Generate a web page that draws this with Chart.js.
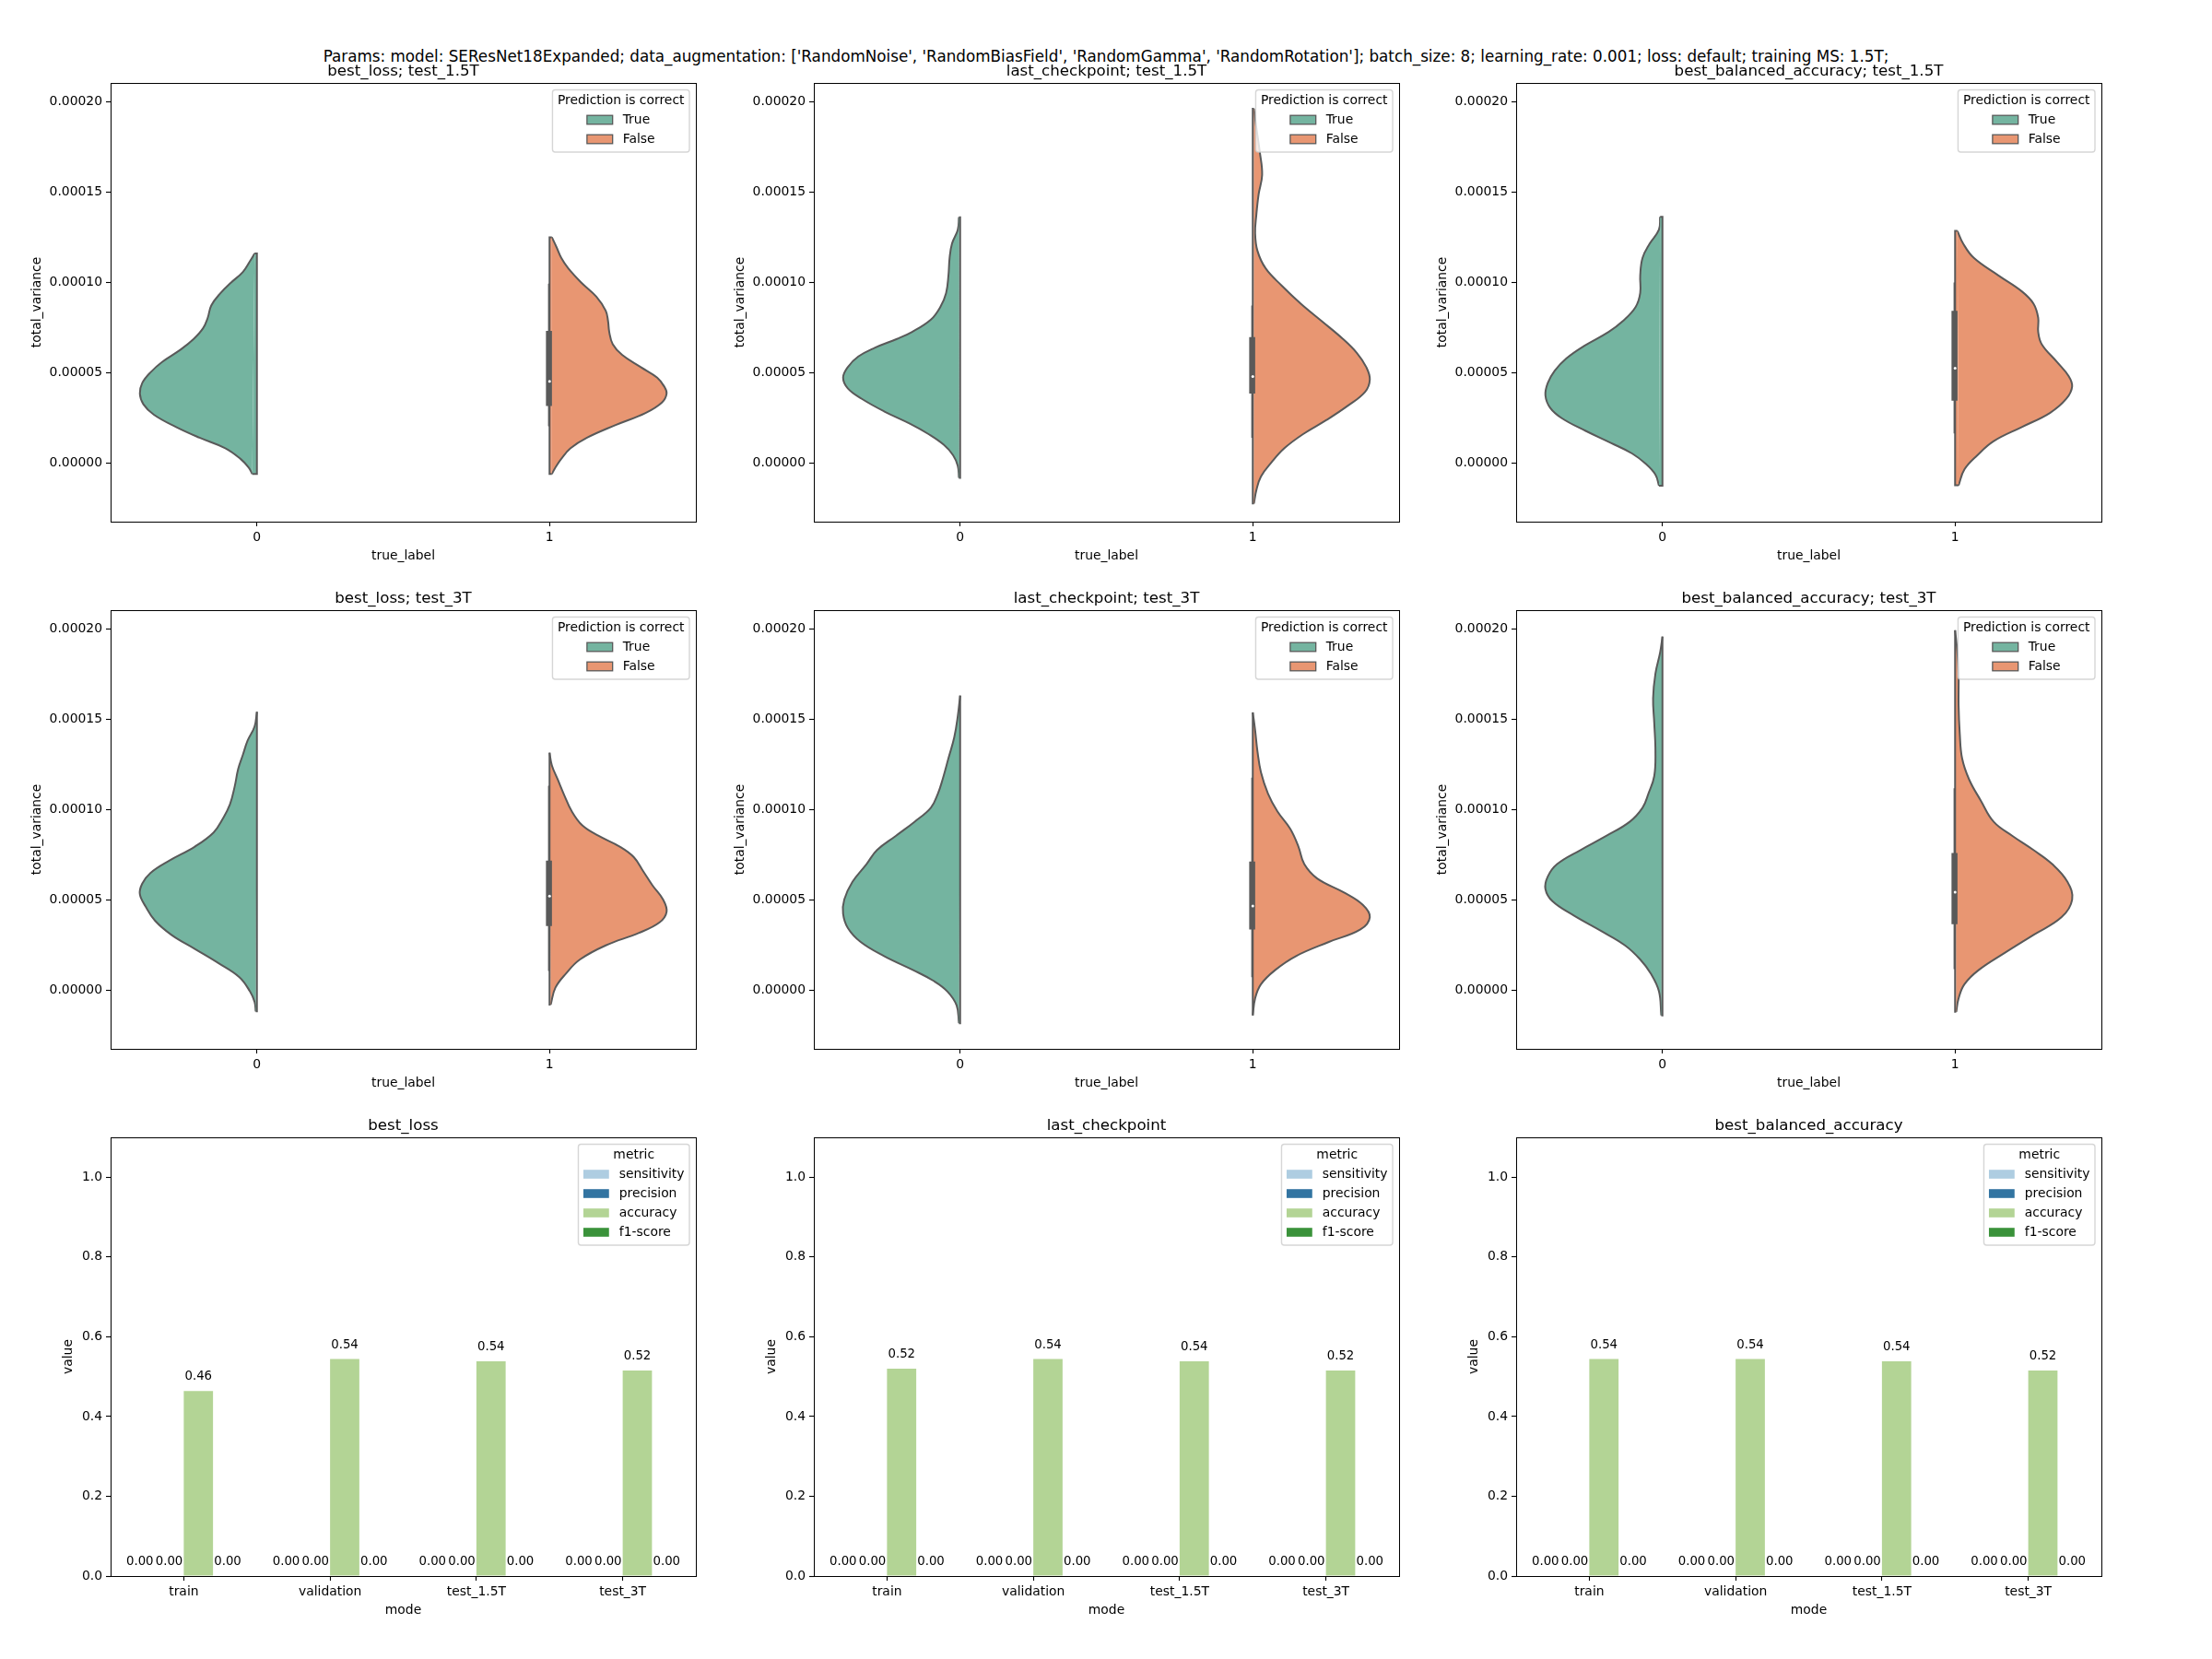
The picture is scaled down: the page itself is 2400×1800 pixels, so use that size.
<!DOCTYPE html>
<html>
<head>
<meta charset="utf-8">
<title>Params</title>
<script src="https://cdn.jsdelivr.net/npm/chart.js@4"></script>
<style>
  html, body { margin: 0; padding: 0; background: #fff; }
  #page { position: relative; width: 2400px; height: 1800px; overflow: hidden; }
  #page canvas { position: absolute; }
  #suptitle { position: absolute; left: 0; width: 2400px; top: 51px; text-align: center;
    font: 16.78px "DejaVu Sans"; line-height: 20px; color: #000; white-space: pre; }
</style>
</head>
<body>
<div id="page">
  <div id="suptitle">Params: model: SEResNet18Expanded; data_augmentation: ['RandomNoise', 'RandomBiasField', 'RandomGamma', 'RandomRotation']; batch_size: 8; learning_rate: 0.001; loss: default; training MS: 1.5T;</div>
</div>
<script>
// ---- data ----
const checkpoints = ["best_loss", "last_checkpoint", "best_balanced_accuracy"];
const testSets = ["test_1.5T", "test_3T"];
const trueLabels = ["0", "1"];
const varianceTicks = [0, 0.00005, 0.0001, 0.00015, 0.0002];
const scoreTicks = [0, 0.2, 0.4, 0.6, 0.8, 1.0];

// violins: value is total_variance * 1e5, dens is the density relative to the widest point
const loss15TrueVal = [11.60,11.17,10.58,10.0,9.42,8.73,8.05,7.47,6.88,6.30,5.61,5.03,4.44,3.86,3.27,2.69,2.01,1.42,0.84,0.25,-0.23,-0.58];
const loss15TrueDens = [.02,.06,.12,.22,.31,.39,.42,.46,.54,.65,.81,.91,.98,1,.97,.88,.69,.49,.27,.14,.07,.04];
const loss15FalseVal = [12.50,11.95,11.36,10.78,10.0,9.22,8.44,7.86,7.27,6.59,6.0,5.32,4.74,4.25,3.86,3.37,2.79,2.11,1.42,0.84,0.25,-0.23,-0.58];
const loss15FalseDens = [.02,.06,.10,.16,.27,.40,.48,.50,.51,.54,.62,.78,.92,.98,1,.96,.82,.56,.32,.18,.10,.05,.02];
const last15TrueVal = [13.61,12.92,12.14,11.36,10.39,9.42,8.64,7.95,7.27,6.88,6.39,5.91,5.32,4.74,4.15,3.57,2.88,2.20,1.62,1.03,0.45,-0.14,-0.80];
const last15TrueDens = [.01,.02,.07,.09,.10,.12,.17,.25,.41,.54,.73,.87,.96,1,.96,.84,.65,.43,.27,.14,.06,.02,.01];
const last15FalseVal = [19.61,18.58,17.21,15.95,14.87,13.70,12.73,11.75,10.78,9.81,8.83,7.86,6.88,6.10,5.32,4.64,3.96,3.18,2.40,1.62,0.84,0.06,-0.72,-1.50,-2.22];
const last15FalseDens = [.01,.03,.06,.08,.05,.03,.02,.04,.11,.25,.41,.59,.77,.89,.97,1,.96,.81,.63,.43,.27,.16,.07,.03,.01];
const bal15TrueVal = [13.63,12.92,12.14,11.36,10.39,9.42,8.64,7.86,7.27,6.49,5.81,5.13,4.44,3.76,3.08,2.50,1.81,1.13,0.55,-0.04,-0.62,-1.23];
const bal15TrueDens = [.02,.03,.11,.17,.19,.19,.23,.34,.46,.67,.82,.92,.98,1,.96,.86,.66,.44,.26,.14,.06,.03];
const bal15FalseVal = [12.85,12.14,11.36,10.39,9.51,8.83,8.05,7.27,6.59,5.61,4.83,4.25,3.57,2.79,2.01,1.23,0.45,-0.33,-1.21];
const bal15FalseDens = [.02,.07,.16,.37,.57,.67,.71,.71,.74,.87,.97,1,.95,.81,.57,.33,.19,.08,.03];
const loss3TrueVal = [15.41,14.60,13.81,13.03,12.25,11.28,10.30,9.52,8.74,7.96,7.18,6.50,5.91,5.33,4.64,3.86,3.08,2.30,1.52,0.74,-0.04,-0.62,-1.15];
const loss3TrueDens = [.00,.02,.08,.12,.16,.19,.23,.29,.37,.53,.75,.91,.98,1,.95,.87,.73,.53,.33,.15,.06,.02,.01];
const loss3FalseVal = [13.15,12.45,11.67,10.89,9.91,9.13,8.55,7.96,7.38,6.60,5.81,5.03,4.35,3.77,3.18,2.50,1.72,0.94,0.16,-0.78];
const loss3FalseDens = [.00,.02,.07,.12,.19,.28,.42,.60,.72,.80,.88,.97,1,.94,.76,.48,.26,.14,.05,.01];
const last3TrueVal = [16.31,15.18,14.01,12.84,11.67,10.89,10.11,9.33,8.55,7.77,6.99,6.01,5.03,4.25,3.47,2.69,1.91,1.13,0.55,-0.04,-0.82,-1.80];
const last3TrueDens = [.00,.02,.05,.10,.15,.19,.25,.39,.55,.71,.80,.92,.99,1,.96,.85,.65,.40,.23,.11,.03,.01];
const last3FalseVal = [15.38,14.40,13.23,12.06,10.89,9.91,8.94,7.96,6.99,6.20,5.42,4.74,4.06,3.38,2.69,1.91,1.13,0.35,-0.43,-1.37];
const last3FalseDens = [.00,.02,.04,.07,.13,.21,.32,.39,.44,.55,.78,.94,1,.92,.65,.37,.19,.07,.02,.00];
const bal3TrueVal = [19.57,18.69,17.52,16.16,14.79,13.23,11.86,10.89,10.11,9.33,8.55,7.77,6.99,6.30,5.62,4.94,4.16,3.28,2.50,1.72,0.94,-0.04,-1.37];
const bal3TrueDens = [.00,.02,.06,.08,.07,.06,.07,.12,.17,.28,.48,.70,.90,.98,1,.94,.76,.52,.32,.19,.10,.03,.01];
const bal3FalseVal = [19.92,18.69,17.52,15.77,14.20,12.84,11.67,10.50,9.33,8.55,7.77,6.99,6.01,5.03,4.06,3.08,2.11,1.13,0.35,-0.43,-1.17];
const bal3FalseDens = [.00,.02,.03,.03,.04,.06,.12,.22,.33,.49,.67,.83,.96,1,.91,.67,.43,.20,.08,.03,.01];

// inner box of the False half: whisker top, q3, median, q1, whisker bottom (* 1e5)
const loss15Box = [9.94, 7.33, 4.54, 3.18, 2.05];
const last15Box = [8.73, 6.98, 4.81, 3.86, 1.42];
const bal15Box = [10.0, 8.44, 5.26, 3.47, 1.66];
const loss3Box = [11.32, 7.18, 5.23, 3.57, 1.09];
const last3Box = [11.77, 7.14, 4.68, 3.38, 0.74];
const bal3Box = [11.18, 7.61, 5.44, 3.67, 1.19];

// bars
const modes = ["train", "validation", "test_1.5T", "test_3T"];
const metrics = ["sensitivity", "precision", "accuracy", "f1-score"];
const zeros = [0, 0, 0, 0];
const lossAccuracy = [0.464, 0.544, 0.5385, 0.5155];
const lastAccuracy = [0.520, 0.544, 0.5385, 0.5155];
const balAccuracy = [0.544, 0.544, 0.5385, 0.5155];

// ---- look ----
const FONT = '"DejaVu Sans"';
const TICK_SIZE = 13.9;
const GREEN = "#74b4a0", ORANGE = "#e89672", GRAY = "#595959";
const metricColors = ["#aecde1", "#3274a1", "#b3d495", "#3a923a"];
// whole pixels so that the canvases are not resampled
const axLeft = [120, 883, 1645], axTop = [90, 662, 1234];
const axW = 635, axH = 476;
const padL = 110, padT = 30, padR = 15, padB = 70;

Chart.defaults.font.family = FONT;
Chart.defaults.font.size = TICK_SIZE;
Chart.defaults.color = "#000";

// top/right/left/bottom spines
const spines = {
    id: "spines",
    afterDatasetsDraw(chart) {
        const a = chart.chartArea, ctx = chart.ctx;
        ctx.save();
        ctx.strokeStyle = "#000";
        ctx.lineWidth = 1;
        ctx.strokeRect(a.left + 0.5, a.top + 0.5, a.right - a.left, a.bottom - a.top);
        ctx.restore();
    }
};

// matplotlib style legend inside the axes, top right, with a title
const boxLegend = {
    id: "boxLegend",
    afterDraw(chart, args, opts) {
        const ctx = chart.ctx, a = chart.chartArea;
        ctx.save();
        ctx.font = TICK_SIZE + "px " + FONT;
        ctx.textBaseline = "middle";
        let itemW = 0;
        opts.labels.forEach(l => { itemW = Math.max(itemW, ctx.measureText(l).width); });
        const titleW = ctx.measureText(opts.title).width;
        const blockW = 27.8 + 11 + itemW;
        const w = Math.max(titleW, blockW) + 11;
        const rowH = 21;
        const h = 25.5 + rowH * opts.labels.length;
        const right = a.right - 7, top = a.top + 7.5, x = right - w;
        ctx.beginPath();
        ctx.roundRect(x, top, w, h, 3);
        ctx.fillStyle = "rgba(255,255,255,0.8)";
        ctx.fill();
        ctx.strokeStyle = "rgba(204,204,204,0.8)";
        ctx.lineWidth = 1.4;
        ctx.stroke();
        ctx.fillStyle = "#000";
        ctx.textAlign = "center";
        ctx.fillText(opts.title, x + w / 2, top + 12);
        ctx.textAlign = "left";
        const start = x + (w - blockW) / 2;
        opts.labels.forEach((l, i) => {
            const cy = top + 32.5 + rowH * i;
            ctx.fillStyle = opts.colors[i];
            ctx.fillRect(start, cy - 4.8, 27.8, 9.6);
            if (opts.edge) {
                ctx.strokeStyle = opts.edge;
                ctx.lineWidth = 1.3;
                ctx.strokeRect(start, cy - 4.8, 27.8, 9.6);
            }
            ctx.fillStyle = "#000";
            ctx.fillText(l, start + 27.8 + 11, cy);
        });
        ctx.restore();
    }
};

// value written above every bar
const barValues = {
    id: "barValues",
    afterDatasetsDraw(chart) {
        const ctx = chart.ctx;
        ctx.save();
        ctx.font = "13.3px " + FONT;
        ctx.fillStyle = "#000";
        ctx.textAlign = "center";
        ctx.textBaseline = "middle";
        chart.data.datasets.forEach((ds, d) => {
            chart.getDatasetMeta(d).data.forEach((bar, i) => {
                ctx.fillText(ds.data[i].toFixed(2), bar.x, bar.y - 15.5);
            });
        });
        ctx.restore();
    }
};

function makeCanvas(row, col) {
    const c = document.createElement("canvas");
    c.width = padL + axW + padR;
    c.height = padT + axH + padB;
    c.style.left = (axLeft[col] - padL) + "px";
    c.style.top = (axTop[row] - padT) + "px";
    document.getElementById("page").appendChild(c);
    return c;
}

function fixedTicks(values) {
    return scale => { scale.ticks = values.map(v => ({ value: v })); };
}

function commonAxis(titleText, size) {
    return {
        title: { display: true, text: titleText, font: { size: TICK_SIZE }, padding: 0 },
        border: { display: false },
        grid: { drawOnChartArea: false, drawTicks: true, tickLength: 5, tickColor: "#000", tickWidth: 1.1, offset: false },
        ticks: { padding: 4, maxRotation: 0, autoSkip: false, font: { size: TICK_SIZE }, color: "#000" },
        afterFit: s => { if (s.axis === "y") s.width = size; else s.height = size; }
    };
}

function commonOptions(titleText, ySize, xSize, legend) {
    return {
        responsive: false,
        animation: false,
        devicePixelRatio: 1,
        layout: { padding: { left: padL - ySize, right: padR, top: 0, bottom: padB - xSize } },
        plugins: {
            legend: { display: false },
            tooltip: { enabled: false },
            title: { display: true, fullSize: false, text: titleText, font: { size: 16.67, weight: "normal" }, color: "#000", padding: { top: 8, bottom: 2 } },
            boxLegend: legend
        }
    };
}

// half violin as one closed curve plus its straight side
function violinCurve(val, dens, center, side, color) {
    return {
        data: val.map((v, i) => ({ x: center + side * dens[i] * 0.4, y: v * 1e-5 })),
        borderColor: GRAY, borderWidth: 2, backgroundColor: color,
        fill: "shape", tension: 0.4, showLine: true, pointRadius: 0
    };
}

// the straight side with the flat ends, filled so no gap is left next to the curve
function violinSide(val, dens, center, side, color) {
    const last = val.length - 1;
    return {
        data: [
            { x: center + side * dens[0] * 0.4, y: val[0] * 1e-5 },
            { x: center, y: val[0] * 1e-5 },
            { x: center, y: val[last] * 1e-5 },
            { x: center + side * dens[last] * 0.4, y: val[last] * 1e-5 }
        ],
        borderColor: GRAY, borderWidth: 2, backgroundColor: color,
        fill: "shape", showLine: true, pointRadius: 0
    };
}

function boxLine(from, to, width) {
    return {
        data: [{ x: 0.998, y: from * 1e-5 }, { x: 0.998, y: to * 1e-5 }],
        borderColor: GRAY, borderWidth: width, fill: false, showLine: true, pointRadius: 0, borderCapStyle: "butt"
    };
}

function violinChart(row, col, trueVal, trueDens, falseVal, falseDens, box) {
    const opts = commonOptions(checkpoints[col] + "; " + testSets[row], 87.8, 45.3, {
        title: "Prediction is correct", labels: ["True", "False"], colors: [GREEN, ORANGE], edge: GRAY
    });
    opts.scales = {
        x: Object.assign(commonAxis("true_label", 45.3), {
            type: "linear", min: -0.5, max: 1.5,
            afterBuildTicks: fixedTicks(trueLabels.map(Number))
        }),
        y: Object.assign(commonAxis("total_variance", 87.8), {
            type: "linear", min: -0.0000322, max: 0.0002103,
            afterBuildTicks: fixedTicks(varianceTicks)
        })
    };
    opts.scales.y.ticks.callback = v => v.toFixed(5);
    opts.scales.x.ticks.callback = v => String(v);
    new Chart(makeCanvas(row, col), {
        type: "scatter",
        data: {
            datasets: [
                // first dataset is painted last
                { data: [{ x: 1, y: box[2] * 1e-5 }], pointRadius: 1.5, pointBackgroundColor: "#fff", pointBorderWidth: 0 },
                boxLine(box[1], box[3], 6.5),
                boxLine(box[0], box[4], 2),
                violinSide(trueVal, trueDens, 0, -1, GREEN),
                violinSide(falseVal, falseDens, 1, 1, ORANGE),
                violinCurve(trueVal, trueDens, 0, -1, GREEN),
                violinCurve(falseVal, falseDens, 1, 1, ORANGE)
            ]
        },
        options: opts,
        plugins: [boxLegend, spines]
    });
}

function barChart(col, accuracy) {
    const opts = commonOptions(checkpoints[col], 53.7, 45.3, {
        title: "metric", labels: metrics, colors: metricColors
    });
    opts.scales = {
        x: Object.assign(commonAxis("mode", 45.3), { type: "category", offset: true }),
        y: Object.assign(commonAxis("value", 53.7), {
            type: "linear", min: 0, max: 1.1,
            afterBuildTicks: fixedTicks(scoreTicks)
        })
    };
    opts.scales.y.ticks.callback = v => v.toFixed(1);
    const series = [zeros, zeros, accuracy, zeros];
    new Chart(makeCanvas(2, col), {
        type: "bar",
        data: {
            labels: modes,
            datasets: metrics.map((m, i) => ({
                label: m, data: series[i], backgroundColor: metricColors[i],
                borderWidth: 0, categoryPercentage: 0.8, barPercentage: 1
            }))
        },
        options: opts,
        plugins: [boxLegend, barValues, spines]
    });
}

violinChart(0, 0, loss15TrueVal, loss15TrueDens, loss15FalseVal, loss15FalseDens, loss15Box);
violinChart(0, 1, last15TrueVal, last15TrueDens, last15FalseVal, last15FalseDens, last15Box);
violinChart(0, 2, bal15TrueVal, bal15TrueDens, bal15FalseVal, bal15FalseDens, bal15Box);
violinChart(1, 0, loss3TrueVal, loss3TrueDens, loss3FalseVal, loss3FalseDens, loss3Box);
violinChart(1, 1, last3TrueVal, last3TrueDens, last3FalseVal, last3FalseDens, last3Box);
violinChart(1, 2, bal3TrueVal, bal3TrueDens, bal3FalseVal, bal3FalseDens, bal3Box);
barChart(0, lossAccuracy);
barChart(1, lastAccuracy);
barChart(2, balAccuracy);
</script>
</body>
</html>
